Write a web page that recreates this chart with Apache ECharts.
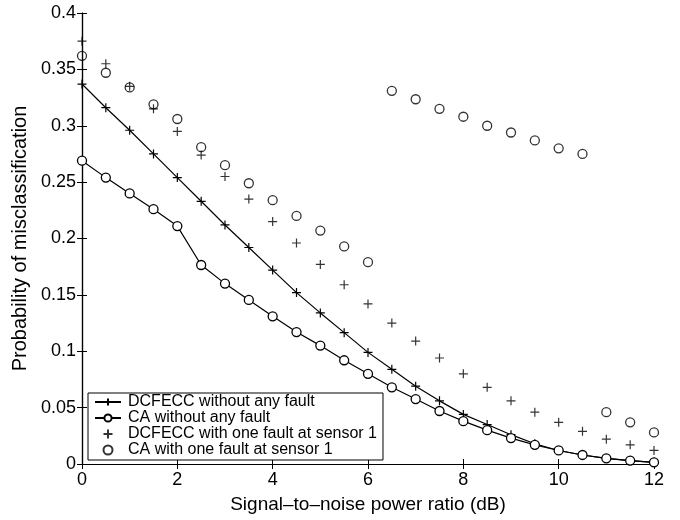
<!DOCTYPE html>
<html>
<head>
<meta charset="utf-8">
<script src="https://cdn.jsdelivr.net/npm/echarts@6/dist/echarts.min.js"></script>
<style>html,body{margin:0;padding:0;background:#fff}#c{width:680px;height:520px}</style>
</head>
<body>
<div id="c"></div>
<script>
const snr = [0,0.5,1,1.5,2,2.5,3,3.5,4,4.5,5,5.5,6,6.5,7,7.5,8,8.5,9,9.5,10,10.5,11,11.5,12];
const dcfecc = [0.337,0.316,0.296,0.275,0.254,0.233,0.212,0.192,0.172,0.152,0.134,0.1165,0.099,0.084,0.069,0.056,0.044,0.035,0.026,0.018,0.012,0.008,0.005,0.003,0.0015];
const ca = [0.269,0.254,0.240,0.226,0.211,0.1765,0.160,0.1455,0.131,0.117,0.105,0.092,0.080,0.068,0.0576,0.047,0.038,0.030,0.023,0.017,0.012,0.008,0.005,0.003,0.0015];
const dcfeccFault = [0.375,0.355,0.335,0.315,0.295,0.274,0.255,0.235,0.215,0.196,0.177,0.159,0.142,0.125,0.109,0.094,0.080,0.068,0.056,0.046,0.037,0.029,0.022,0.017,0.012];
const caFault = [0.362,0.347,0.334,0.319,0.306,0.281,0.265,0.249,0.234,0.220,0.207,0.193,0.179,0.331,0.3235,0.315,0.308,0.300,0.294,0.287,0.280,0.275,0.046,0.037,0.028];
const names = ['DCFECC without any fault','CA without any fault','DCFECC with one fault at sensor 1','CA with one fault at sensor 1'];
const xTicks = [0,2,4,6,8,10,12];
const yTicks = [0,0.05,0.1,0.15,0.2,0.25,0.3,0.35,0.4];

const pair = arr => arr.map((v,i)=>[snr[i], v]);
const plus = 'path://M0,5L10,5M5,0L5,10';
const font = 'Liberation Sans, Arial, sans-serif';
const mk = {color:'none', borderColor:'#000', borderWidth:1.2};

const chart = echarts.init(document.getElementById('c'), null, {renderer:'canvas'});
const axisCommon = {
  axisLine:{show:true, lineStyle:{color:'#000', width:1.2}},
  axisTick:{show:true, inside:true, length:5, lineStyle:{color:'#000', width:1}},
  splitLine:{show:false}
};
chart.setOption({
  animation:false,
  backgroundColor:'#fff',
  grid:{left:82, right:26, top:13, bottom:56},
  xAxis:[
    Object.assign({type:'value', min:xTicks[0], max:xTicks[xTicks.length-1], interval:2, position:'bottom',
      name:'Signal\u2013to\u2013noise power ratio (dB)', nameLocation:'middle', nameGap:31,
      nameTextStyle:{fontFamily:font, fontSize:19, color:'#000'},
      axisLabel:{fontFamily:font, fontSize:18, color:'#000', margin:7}}, axisCommon),
    Object.assign({type:'value', min:0, max:12, interval:2, position:'top', axisLabel:{show:false}}, axisCommon)
  ],
  yAxis:[
    Object.assign({type:'value', min:yTicks[0], max:yTicks[yTicks.length-1], interval:0.05, position:'left',
      name:'Probability of misclassification', nameLocation:'middle', nameGap:46, nameRotate:90,
      nameTextStyle:{fontFamily:font, fontSize:20, color:'#000'},
      axisLabel:{fontFamily:font, fontSize:18, color:'#000', margin:6,
        formatter:v=>String(+v.toFixed(2))}}, axisCommon),
    Object.assign({type:'value', min:0, max:0.4, interval:0.05, position:'right', axisLabel:{show:false}}, axisCommon)
  ],
  legend:{
    left:88, top:393, orient:'vertical', backgroundColor:'#fff',
    borderColor:'#000', borderWidth:1, borderRadius:0,
    padding:[1,6,2,6], itemGap:0, itemWidth:26, itemHeight:9,
    textStyle:{fontFamily:font, fontSize:16, color:'#000', lineHeight:16, padding:[0,0,0,2]},
    data:names
  },
  series:[
    {name:names[0], type:'line', data:pair(dcfecc), symbol:plus, symbolSize:9, showAllSymbol:true,
      lineStyle:{color:'#000', width:1.2}, itemStyle:mk, z:3},
    {name:names[1], type:'line', data:pair(ca), symbol:'circle', symbolSize:9, showAllSymbol:true,
      lineStyle:{color:'#000', width:1.2}, itemStyle:{color:'#fff', borderColor:'#000', borderWidth:1.3}, z:3},
    {name:names[2], type:'scatter', data:pair(dcfeccFault), symbol:plus, symbolSize:9, itemStyle:mk, z:4},
    {name:names[3], type:'scatter', data:pair(caFault), symbol:'circle', symbolSize:9,
      itemStyle:{color:'none', borderColor:'#000', borderWidth:1.3}, z:4}
  ]
});
</script>
</body>
</html>
